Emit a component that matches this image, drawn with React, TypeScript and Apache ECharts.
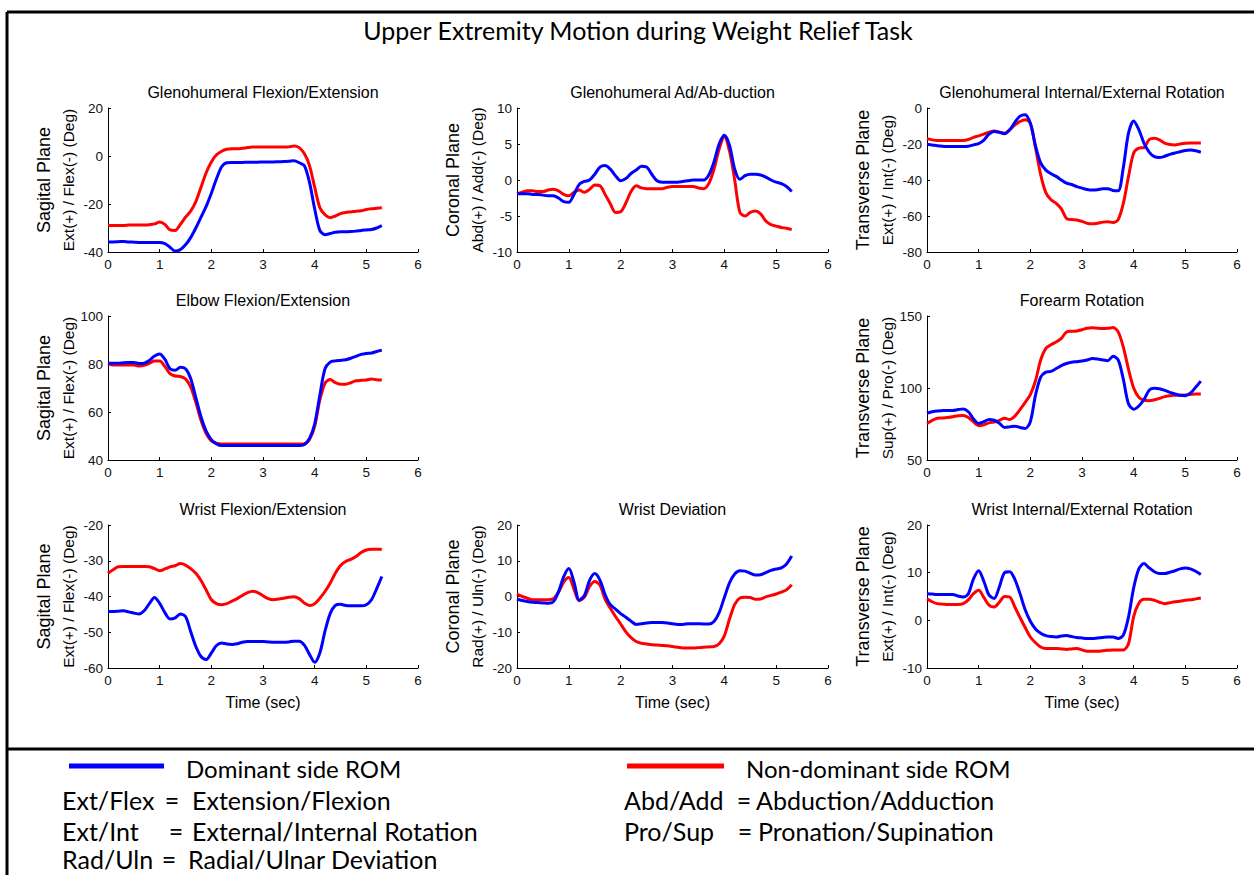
import { useEffect, useRef } from "react";
import * as echarts from "echarts";

// ---------- data ----------
const TIME = [
  0, 0.1, 0.2, 0.3, 0.4, 0.5, 0.6, 0.7, 0.8, 0.9,
  1.0, 1.1, 1.2, 1.3, 1.4, 1.5, 1.6, 1.7, 1.8, 1.9,
  2.0, 2.1, 2.2, 2.3, 2.4, 2.5, 2.6, 2.7, 2.8, 2.9,
  3.0, 3.1, 3.2, 3.3, 3.4, 3.5, 3.6, 3.7, 3.8, 3.9,
  4.0, 4.1, 4.2, 4.3, 4.4, 4.5, 4.6, 4.7, 4.8, 4.9,
  5.0, 5.1, 5.2, 5.3,
];

// Glenohumeral Flexion/Extension
const GH_FLEX_DOM = [
  -35.8, -35.8, -35.7, -35.6, -35.8, -35.9, -36, -36, -36, -36,
  -36, -36.5, -38, -39.6, -39, -37, -34, -30, -25.5, -21,
  -15.5, -9.5, -4.5, -2.8, -2.7, -2.7, -2.7, -2.6, -2.6, -2.6,
  -2.5, -2.5, -2.5, -2.4, -2.3, -2.2, -2, -2.8, -4, -11,
  -22, -31, -32.8, -32.3, -31.8, -31.6, -31.6, -31.5, -31.3, -31,
  -30.8, -30.6, -30, -29,
];
const GH_FLEX_NON = [
  -29, -29, -29, -29, -28.8, -28.7, -28.7, -28.7, -28.6, -28.3,
  -27.5, -28.5, -30.8, -31, -28.5, -25.5, -23, -19, -13, -7,
  -2.5, 0.5, 2, 2.8, 3, 3, 3.2, 3.5, 3.7, 3.7,
  3.7, 3.7, 3.7, 3.7, 3.7, 3.8, 4.2, 3.5, 1, -4,
  -13, -21.5, -24.5, -25.7, -25, -24, -23.5, -23.3, -23, -22.8,
  -22.3, -22, -21.8, -21.6,
];

// Glenohumeral Ad/Ab-duction
const GH_ABD_DOM = [
  -1.9, -1.9, -1.9, -2, -2, -2.1, -2.2, -2.2, -2.5, -3,
  -3.1, -2, -0.6, -0.2, 0, 0.8, 1.8, 2, 1.5, 0.6,
  -0.1, 0.2, 0.9, 1.4, 1.9, 1.8, 0.8, -0.1, -0.3, -0.3,
  -0.3, -0.3, -0.2, -0.1, 0, 0, 0, 0.7, 2.5, 5,
  6.2, 4.8, 1.5, 0.1, 0.6, 0.8, 0.8, 0.7, 0.4, 0,
  -0.3, -0.5, -0.9, -1.6,
];
const GH_ABD_NON = [
  -1.9, -1.7, -1.5, -1.5, -1.6, -1.6, -1.4, -1.3, -1.5, -2,
  -2.2, -1.7, -1.4, -1.7, -1.3, -0.7, -0.8, -2, -3.3, -4.5,
  -4.4, -3.2, -1.6, -0.8, -1.1, -1.2, -1.2, -1.2, -1.2, -1,
  -0.9, -0.9, -0.9, -0.9, -0.9, -1.1, -1.2, -0.5, 1.5, 4.3,
  6, 4, 0, -4.5, -5, -4.5, -4.3, -4.7, -5.7, -6.2,
  -6.4, -6.6, -6.7, -6.9,
];

// Glenohumeral Internal/External Rotation
const GH_ROT_DOM = [
  -20.1, -20.5, -21, -21.3, -21.4, -21.4, -21.4, -21.4, -21.2, -20.5,
  -19.8, -17.8, -14.5, -13, -13.5, -14.3, -12.2, -8, -4.5, -3.7,
  -8.5, -21, -30.5, -34.5, -36.5, -38, -40, -41.8, -42.5, -43.7,
  -44.5, -45.3, -45.6, -45.4, -44.8, -44.8, -45.8, -46, -33, -14,
  -7.2, -12, -19.5, -24.5, -27, -27.5, -26.8, -25.8, -25, -24.3,
  -23.6, -23.4, -23.8, -24.6,
];
const GH_ROT_NON = [
  -17, -17.7, -18, -18, -18, -18, -18, -18, -17.5, -16.3,
  -15.5, -14.5, -13.5, -12.8, -13.5, -14, -12, -9.5, -7.5, -6.5,
  -8.5, -22, -37, -47, -51, -53, -56, -61.4, -62, -62.2,
  -63, -64, -64.3, -64, -63.4, -63.2, -63.6, -62, -53, -38,
  -25, -22.3, -22, -17.5, -16.8, -17.7, -19.5, -20.3, -20.5, -20,
  -19.6, -19.4, -19.4, -19.4,
];

// Elbow Flexion/Extension
const ELB_DOM = [
  80.3, 80.3, 80.3, 80.5, 80.6, 80.6, 80.2, 80.3, 81.5, 83.3,
  84.2, 82, 78, 77.4, 78.6, 78, 74, 66, 58, 52,
  48.5, 46.7, 46, 46, 46, 46, 46, 46, 46, 46,
  46, 46, 46, 46, 46, 46, 46, 46, 46.5, 49,
  55, 67, 78, 80.8, 81.3, 81.5, 81.8, 82.4, 83.2, 84,
  84.4, 84.6, 85.2, 85.8,
];
const ELB_NON = [
  80.2, 79.6, 79.6, 79.6, 79.6, 79.6, 79.2, 79.5, 80.3, 81.2,
  81.2, 79, 76, 75, 74.8, 73.8, 70.5, 64, 56.5, 51,
  48, 47, 46.7, 46.7, 46.7, 46.7, 46.7, 46.7, 46.7, 46.7,
  46.7, 46.7, 46.7, 46.7, 46.7, 46.7, 46.7, 46.7, 46.7, 48.5,
  54, 65, 72, 73.5, 72.2, 71.6, 71.6, 72.2, 73, 73.2,
  73.3, 73.8, 73.4, 73.3,
];

// Forearm Rotation
const FORE_DOM = [
  82.5, 83.5, 84.1, 84.3, 84.4, 84.4, 85, 85.5, 83.5, 78.5,
  75.4, 76.6, 78.2, 77.6, 75.5, 72.6, 73, 73.5, 72.6, 71.9,
  76.6, 95, 107.5, 111, 111.5, 113.5, 115.6, 117, 117.9, 118.3,
  118.8, 119.5, 120.5, 120.2, 119.5, 119, 122, 119.5, 106, 89,
  85.2, 87.5, 92, 98.5, 99.8, 99.5, 98.3, 97, 95.8, 95,
  94.7, 96.5, 100.5, 104.8,
];
const FORE_NON = [
  75.4, 77.5, 79, 79.2, 79.5, 80, 80.8, 80.9, 79.5, 76.5,
  73.8, 74.5, 75.8, 76.4, 77.5, 79, 78.2, 80.5, 85, 90,
  95.4, 105, 119.5, 127.5, 130, 132, 134.5, 138.9, 139.4, 139.6,
  140.5, 141.5, 141.8, 141.5, 141.3, 141.5, 142, 139, 128.4, 113,
  100, 93.5, 91.5, 91.2, 91.8, 92.8, 94, 94.6, 95, 95,
  95.2, 95.5, 95.8, 95.9,
];

// Wrist Flexion/Extension
const WF_DOM = [
  -44.2, -44.2, -44.1, -44, -44.3, -44.6, -44.9, -44, -42, -40.3,
  -41.9, -44.5, -46.3, -46, -44.9, -45.6, -49.8, -54, -56.8, -57.6,
  -55.8, -53.7, -53, -53.3, -53.4, -53.2, -52.8, -52.6, -52.6, -52.6,
  -52.6, -52.7, -52.8, -52.8, -52.8, -52.7, -52.5, -52.5, -53.6, -56.2,
  -58.4, -55.8, -49.7, -44.8, -42.5, -42.2, -42.5, -42.6, -42.6, -42.6,
  -42.3, -40.9, -37.8, -34.4,
];
const WF_NON = [
  -33.5, -32.5, -31.7, -31.6, -31.6, -31.6, -31.6, -31.6, -31.7, -32.2,
  -32.8, -32.3, -31.7, -31.4, -30.8, -31.2, -32.2, -33.5, -35.5, -38.2,
  -40.9, -42, -42.3, -42, -41.3, -40.6, -39.7, -38.9, -38.5, -38.9,
  -39.8, -40.6, -40.9, -40.7, -40.5, -40.2, -40.1, -40.6, -41.8, -42.5,
  -42, -40.5, -38.6, -36.3, -33.5, -31.3, -30.2, -29.6, -28.8, -27.7,
  -27, -26.8, -26.8, -26.8,
];

// Wrist Deviation
const WD_DOM = [
  -0.7, -1.1, -1.4, -1.6, -1.7, -1.8, -1.9, -1.5, 1.3, 5.5,
  7.8, 4, -1, 0.3, 4.5, 6.4, 4.6, 0.5, -2.3, -3.5,
  -4.8, -5.8, -6.9, -7.8, -7.6, -7.4, -7.3, -7.3, -7.3, -7.4,
  -7.6, -7.8, -7.8, -7.6, -7.6, -7.6, -7.7, -7.7, -7, -4.5,
  -0.3, 3.8, 6.3, 7.2, 7.1, 6.5, 6, 6.1, 6.7, 7.3,
  7.7, 8, 9.1, 11.3,
];
const WD_NON = [
  0.7, 0, -0.5, -0.9, -0.9, -0.9, -0.9, -0.6, 1.2, 4,
  5.3, 2, -1.2, -0.2, 2.8, 4.2, 3.2, -0.8, -3.3, -5.6,
  -7.7, -9.9, -11.5, -12.6, -13.1, -13.3, -13.5, -13.6, -13.7, -13.8,
  -14, -14.2, -14.4, -14.4, -14.4, -14.3, -14.2, -14.1, -14, -13.2,
  -11, -6.3, -2.2, -0.4, -0.2, -0.3, -0.8, -0.7, -0.1, 0.3,
  0.7, 1.2, 1.9, 3.3,
];

// Wrist Internal/External Rotation
const WR_DOM = [
  5.6, 5.5, 5.4, 5.4, 5.4, 5.4, 5.1, 4.9, 5.6, 8.7,
  10.4, 8.2, 5.3, 4.6, 7, 10, 10.2, 8.6, 5.6, 2.2,
  -0.2, -1.8, -2.7, -3.2, -3.4, -3.5, -3.3, -3.2, -3.4, -3.6,
  -3.7, -3.8, -3.8, -3.7, -3.6, -3.5, -3.5, -3.8, -3.1, 0.7,
  6.8, 10.8, 11.9, 11, 10.2, 9.8, 9.8, 10.1, 10.4, 10.8,
  11, 10.8, 10.3, 9.6,
];
const WR_NON = [
  4.5, 3.9, 3.5, 3.4, 3.3, 3.3, 3.3, 3.5, 4.3, 5.6,
  6.3, 4.8, 3.2, 2.8, 3.8, 5, 4.9, 2.8, 0.6, -1.5,
  -3.5, -4.7, -5.6, -5.9, -5.9, -5.9, -6, -6.1, -6, -5.9,
  -6.2, -6.5, -6.5, -6.5, -6.4, -6.3, -6.2, -6.2, -6.2, -4.9,
  0.8, 3.6, 4.4, 4.4, 4.2, 3.8, 3.5, 3.7, 3.9, 4,
  4.2, 4.3, 4.5, 4.7,
];

const X_TICKS_MAX = 6;
const MAIN_TITLE = "Upper Extremity Motion during Weight Relief Task";
const X_LABEL = "Time (sec)";
const LEGEND_DOM = "Dominant side ROM";
const LEGEND_NON = "Non-dominant side ROM";
const ABBREVIATIONS = [
  ["Ext/Flex", "Extension/Flexion"],
  ["Ext/Int", "External/Internal Rotation"],
  ["Rad/Uln", "Radial/Ulnar Deviation"],
  ["Abd/Add", "Abduction/Adduction"],
  ["Pro/Sup", "Pronation/Supination"],
];

type Panel = {
  title: string;
  plane: string;
  unit: string;
  min: number;
  max: number;
  interval: number;
  dom: number[];
  non: number[];
  row: number;
  col: number;
};

const PANELS: Panel[] = [
  { title: "Glenohumeral Flexion/Extension", plane: "Sagital Plane", unit: "Ext(+) / Flex(-) (Deg)", min: -40, max: 20, interval: 20, dom: GH_FLEX_DOM, non: GH_FLEX_NON, row: 0, col: 0 },
  { title: "Glenohumeral Ad/Ab-duction", plane: "Coronal Plane", unit: "Abd(+) / Add(-) (Deg)", min: -10, max: 10, interval: 5, dom: GH_ABD_DOM, non: GH_ABD_NON, row: 0, col: 1 },
  { title: "Glenohumeral Internal/External Rotation", plane: "Transverse Plane", unit: "Ext(+) / Int(-) (Deg)", min: -80, max: 0, interval: 20, dom: GH_ROT_DOM, non: GH_ROT_NON, row: 0, col: 2 },
  { title: "Elbow Flexion/Extension", plane: "Sagital Plane", unit: "Ext(+) / Flex(-) (Deg)", min: 40, max: 100, interval: 20, dom: ELB_DOM, non: ELB_NON, row: 1, col: 0 },
  { title: "Forearm Rotation", plane: "Transverse Plane", unit: "Sup(+) / Pro(-) (Deg)", min: 50, max: 150, interval: 50, dom: FORE_DOM, non: FORE_NON, row: 1, col: 2 },
  { title: "Wrist Flexion/Extension", plane: "Sagital Plane", unit: "Ext(+) / Flex(-) (Deg)", min: -60, max: -20, interval: 10, dom: WF_DOM, non: WF_NON, row: 2, col: 0 },
  { title: "Wrist Deviation", plane: "Coronal Plane", unit: "Rad(+) / Uln(-) (Deg)", min: -20, max: 20, interval: 10, dom: WD_DOM, non: WD_NON, row: 2, col: 1 },
  { title: "Wrist Internal/External Rotation", plane: "Transverse Plane", unit: "Ext(+) / Int(-) (Deg)", min: -10, max: 20, interval: 10, dom: WR_DOM, non: WR_NON, row: 2, col: 2 },
];

// ---------- layout ----------
const W = 1254;
const H = 875;
const COL_LEFT = [108, 517, 927];
const COL_WIDTH = [310, 311, 310];
const ROW_TOP = [108, 316, 525];
const ROW_HEIGHT = [144, 144, 143];
const BLUE = "#0000ff";
const RED = "#ff0000";
const PLOT_FONT = "'Liberation Sans', Arial, sans-serif";
const NOTE_FONT = "Lato, 'Open Sans', sans-serif";

function text(x: number, y: number, str: string, font: string, opts: any = {}) {
  return {
    type: "text",
    x,
    y,
    rotation: opts.rotation || 0,
    silent: true,
    style: {
      text: str,
      font,
      fill: opts.fill || "#000",
      textAlign: opts.align || "center",
      textVerticalAlign: opts.vAlign || "middle",
    },
  };
}

function buildOption() {
  const grid: any[] = [];
  const xAxis: any[] = [];
  const yAxis: any[] = [];
  const series: any[] = [];
  const graphic: any[] = [];

  PANELS.forEach((p, i) => {
    const left = COL_LEFT[p.col];
    const top = ROW_TOP[p.row];
    const width = COL_WIDTH[p.col];
    const height = ROW_HEIGHT[p.row];
    grid.push({ left, top, width, height, containLabel: false });
    const axisCommon = {
      axisLine: { show: true, onZero: false, lineStyle: { color: "#000", width: 1 } },
      axisTick: { show: true, inside: true, length: 3, lineStyle: { color: "#000" } },
      axisLabel: { show: true, color: "#111", fontSize: 13.5, fontFamily: PLOT_FONT, margin: 5 },
      splitLine: { show: false },
    };
    xAxis.push({ type: "value", gridIndex: i, min: 0, max: X_TICKS_MAX, interval: 1, ...axisCommon });
    yAxis.push({ type: "value", gridIndex: i, min: p.min, max: p.max, interval: p.interval, ...axisCommon });
    series.push({
      type: "line",
      name: LEGEND_NON,
      xAxisIndex: i,
      yAxisIndex: i,
      data: TIME.map((t, k) => [t, p.non[k]]),
      showSymbol: false,
      smooth: 0.3,
      lineStyle: { color: RED, width: 3 },
      itemStyle: { color: RED },
      silent: true,
    });
    series.push({
      type: "line",
      name: LEGEND_DOM,
      xAxisIndex: i,
      yAxisIndex: i,
      data: TIME.map((t, k) => [t, p.dom[k]]),
      showSymbol: false,
      smooth: 0.3,
      lineStyle: { color: BLUE, width: 3 },
      itemStyle: { color: BLUE },
      silent: true,
    });

    graphic.push(text(left + width / 2, top - 16, p.title, `16px ${PLOT_FONT}`));
    graphic.push(text(left - 64, top + height / 2, p.plane, `18px ${PLOT_FONT}`, { rotation: Math.PI / 2 }));
    graphic.push(text(left - 40, top + height / 2, p.unit, `15.5px ${PLOT_FONT}`, { rotation: Math.PI / 2 }));
    if (p.row === 2) {
      graphic.push(text(left + width / 2, top + height + 34, X_LABEL, `16px ${PLOT_FONT}`));
    }
  });

  // frame
  const frame = { stroke: "#000", lineWidth: 3 };
  graphic.push({ type: "line", silent: true, shape: { x1: 7, y1: 12, x2: W, y2: 12 }, style: frame });
  graphic.push({ type: "line", silent: true, shape: { x1: 7, y1: 12, x2: 7, y2: H }, style: frame });
  graphic.push({ type: "line", silent: true, shape: { x1: 7, y1: 749, x2: W, y2: 749 }, style: frame });

  // main title
  graphic.push(text(638, 30, MAIN_TITLE, `25px ${NOTE_FONT}`));

  // legend
  const legendFont = `24px ${NOTE_FONT}`;
  const noteFont = `25px ${NOTE_FONT}`;
  graphic.push({ type: "line", silent: true, shape: { x1: 69, y1: 766, x2: 164, y2: 766 }, style: { stroke: BLUE, lineWidth: 5 } });
  graphic.push(text(186, 768, LEGEND_DOM, legendFont, { align: "left" }));
  graphic.push({ type: "line", silent: true, shape: { x1: 627, y1: 766, x2: 724, y2: 766 }, style: { stroke: RED, lineWidth: 5 } });
  graphic.push(text(746, 768, LEGEND_NON, legendFont, { align: "left" }));

  const abbrPos = [
    { x: 62, eq: 172, def: 192, y: 800 },
    { x: 62, eq: 176, def: 192, y: 831 },
    { x: 62, eq: 169, def: 188, y: 859 },
    { x: 624, eq: 744, def: 756, y: 800 },
    { x: 624, eq: 745, def: 758, y: 831 },
  ];
  ABBREVIATIONS.forEach(([abbr, def], i) => {
    const pos = abbrPos[i];
    graphic.push(text(pos.x, pos.y, abbr, noteFont, { align: "left" }));
    graphic.push(text(pos.eq, pos.y, "=", noteFont, { align: "center" }));
    graphic.push(text(pos.def, pos.y, def, noteFont, { align: "left" }));
  });

  return {
    animation: false,
    backgroundColor: "#fff",
    grid,
    xAxis,
    yAxis,
    series,
    graphic: { elements: graphic },
  };
}

export default function App() {
  const ref = useRef<HTMLDivElement>(null);
  useEffect(() => {
    if (!ref.current) return;
    const chart = echarts.init(ref.current, undefined, { renderer: "svg", width: W, height: H });
    chart.setOption(buildOption() as any);
    return () => chart.dispose();
  }, []);
  return (
    <div
      ref={ref}
      style={{ position: "fixed", left: 0, top: 0, width: W, height: H, background: "#fff" }}
    />
  );
}
